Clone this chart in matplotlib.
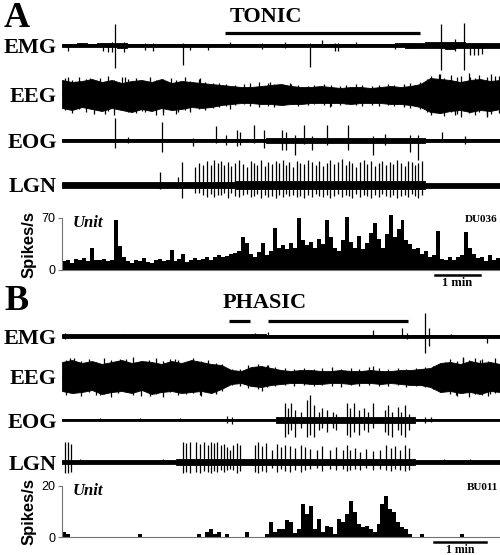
import numpy as np
import matplotlib
matplotlib.use("Agg")
import matplotlib.pyplot as plt

SERIF = ["Liberation Serif", "DejaVu Serif"]
SANS = ["Liberation Sans", "DejaVu Sans"]

# ---------------- panel A : tonic REM, unit DU036 (time in s) ----------------
DUR_A = 584
TONIC = (217, 477)

# half widths of the background band (45 samples over the record)
emg_a_env = [1.5, 1.5, 2, 1.5, 2, 2, 2.5,
             1.5, 1.5, 1.5, 1.5, 1.5, 1.5, 1.5, 1.5, 1.5, 1.5,
             1.5, 1.5, 1.5, 1.5, 1.5, 1.5, 1.5, 1.5, 1.5, 1.5,
             1.5, 1.5, 1.5, 1.5, 1.5, 1.5, 1.5, 2, 2.5, 2.5,
             3, 3, 3.5, 3, 2.5, 2.5, 2.5, 2.5]
emg_a_t = [8, 55, 61, 67, 71, 83, 111, 121, 161, 171, 195, 224, 267, 297, 331,
           347, 364, 368, 392, 444, 464, 505, 524, 536, 544, 549, 555, 560]
emg_a_up = [1, 2, 2, 3, 21, 3, 2, 2, 2, 1, 1, 3, 2, 3, 2,
            5, 2, 2, 3, 2, 2, 21, 6, 22, 2, 2, 2, 2]
emg_a_dn = [6, 6, 7, 7, 23, 7, 5, 6, 20, 5, 5, 2, 4, 3, 22,
            2, 6, 6, 2, 4, 3, 25, 6, 25, 10, 10, 10, 9]

eeg_a_up = [15, 13, 14, 16, 13, 15, 12, 14, 15, 13, 16, 12, 14, 13, 12,
            11, 10, 9,
            8, 8, 9, 10, 11, 9, 8, 8, 9, 8, 7, 8, 8, 7, 8, 9, 8, 9, 11,
            17, 16, 15, 13, 15, 16, 14, 15]
eeg_a_lo = [13, 15, 12, 14, 16, 13, 15, 17, 14, 16, 13, 15, 14, 12, 13,
            12, 10, 9,
            8, 8, 9, 9, 10, 9, 9, 8, 8, 8, 8, 9, 8, 8, 8, 9, 9, 10, 12,
            17, 18, 16, 15, 17, 15, 16, 14]
eeg_a_t = [8, 37, 57, 84, 111, 135, 155, 184, 224, 277, 304, 357, 504, 524, 544, 567, 577,
           4, 13, 22, 32, 42, 50, 61, 69, 80, 88, 98, 106, 117, 125, 134, 145,
           152, 164, 171, 182, 190, 201, 209, 219,
           231, 242, 251, 263, 274, 283, 296, 305, 315, 328, 336, 349, 358, 370,
           379, 392, 400, 413, 422, 434, 443, 456, 464, 477, 486,
           492, 502, 509, 518, 526, 532, 542, 550, 556, 566, 572, 582]
eeg_a_sup = [18, 17, 10, 18, 10, 12, 10, 17, 6, 13, 12, 6, 21, 12, 18, 10, 19,
             17, 15, 18, 16, 14, 17, 19, 15, 18, 16, 17, 14, 18, 15, 16, 17,
             15, 18, 14, 16, 13, 12, 12, 11,
             10, 11, 12, 13, 12, 11, 10, 11, 10, 9, 10, 11, 10, 9,
             10, 11, 10, 9, 10, 11, 10, 11, 12, 13, 16,
             19, 21, 17, 20, 18, 19, 22, 17, 20, 18, 21, 19]
eeg_a_sdn = [10, 10, 19, 10, 17, 20, 17, 10, 14, 6, 6, 12, 18, 20, 12, 22, 12,
             15, 18, 14, 17, 19, 15, 16, 20, 14, 17, 18, 16, 15, 20, 17, 14,
             19, 15, 17, 14, 15, 13, 12, 11,
             10, 9, 11, 12, 11, 12, 10, 9, 11, 10, 9, 10, 11, 10,
             9, 10, 11, 10, 11, 10, 11, 12, 13, 14, 17,
             20, 18, 21, 17, 19, 22, 18, 20, 17, 21, 19, 18]

eog_a_env = [1.5] * 21 + [2.5] * 16 + [1.5] * 8
eog_a_t = [71, 88, 133, 175, 205, 219, 233, 237, 256, 269, 293, 299, 311, 323,
           333, 353, 381, 415, 431, 464, 475, 507, 537]
eog_a_up = [22, 3, 18, 2, 14, 5, 10, 8, 15, 10, 10, 8, 5, 15,
            4, 15, 15, 4, 6, 5, 5, 8, 4]
eog_a_dn = [8, 3, 12, 6, 3, 5, 6, 5, 3, 8, 10, 10, 15, 4,
            10, 5, 10, 15, 5, 12, 20, 2, 4]

lgn_a_env = [3] * 18 + [4] * 19 + [2.5] * 8
lgn_a_t = [131, 155, 160, 177, 183, 188, 193, 199, 203, 208, 212, 216, 221, 225,
           231, 236, 241, 247, 252, 256, 260, 265, 271, 275, 280, 285, 289, 295,
           299, 303, 308, 313, 317, 323, 328, 333, 339, 343, 348, 353, 357, 363,
           368, 373, 379, 383, 387, 392, 397, 403, 407, 412, 417, 423, 427, 432,
           437, 441, 447, 452, 457, 461, 467, 471, 475, 480]
lgn_a_up = [13, 8, 23, 18, 22, 20, 24, 20, 25, 22, 24, 20, 23, 19, 22, 25, 21,
            18, 24, 22, 20, 25, 19, 23, 21, 24, 22, 25, 20, 23, 18, 24, 22, 21,
            25, 23, 20, 24, 19, 22, 25, 21, 23, 26, 20, 24, 22, 18, 23, 25, 21,
            24, 19, 22, 24, 20, 23, 21, 25, 22, 19, 24, 23, 20, 22, 24]
lgn_a_dn = [4, 3, 13, 8, 8, 10, 12, 9, 12, 10, 10, 8, 13, 8, 11, 12, 10, 9, 12,
            11, 9, 13, 10, 12, 11, 13, 10, 12, 9, 11, 10, 12, 11, 13, 10, 12, 9,
            11, 12, 10, 13, 11, 9, 12, 10, 11, 13, 9, 12, 10, 11, 13, 10, 12, 9,
            11, 12, 10, 13, 11, 10, 12, 9, 11, 13, 10]

BIN_A = 5.31
rate_a = [12, 14, 10, 15, 13, 16, 12, 30, 14, 13, 15, 12,
          14, 67, 32, 18, 12,
          10, 14, 12, 16, 11, 9, 13, 15, 12, 14,
          27, 12, 15, 22, 11, 14, 16,
          13, 15, 17, 14, 18, 20, 17, 19, 21, 23, 25,
          44, 36, 22, 18, 24, 37, 20, 25, 56, 30,
          34, 28, 36, 30, 70, 40, 33, 38, 30, 42,
          35, 67, 45, 30, 25, 40, 72, 38, 30, 46,
          28, 36, 50, 63, 42, 30, 48, 74, 45, 55,
          67, 40, 35, 28, 30, 22, 25, 18, 20, 52,
          15, 14, 17, 13, 18, 20, 51, 30, 22, 16, 18, 12, 20, 14, 16]

# ---------------- panel B : phasic REM, unit BU011 (time in s) ----------------
DUR_B = 505
PHASIC = [(192, 217), (238, 399)]

emg_b_env = [2] * 21 + [1.5] * 24
emg_b_t = [3, 20, 45, 70, 100, 140, 223, 238, 359, 392, 398, 419, 423, 448, 490]
emg_b_up = [3, 2, 2, 2, 2, 2, 3, 4, 6, 8, 3, 23, 8, 2, 1]
emg_b_dn = [3, 1, 1, 1, 1, 1, 1, 2, 1, 2, 3, 17, 10, 1, 7]

eeg_b_up = [15, 17, 14, 16, 13, 15, 17, 14, 16, 15, 13, 16, 14, 17, 15, 13, 12,
            7, 6, 10, 11, 9,
            7, 6, 7, 7, 6, 6, 7, 6, 6, 7, 6, 6, 7, 7, 8, 9,
            14, 15, 13, 16, 14, 15, 13]
eeg_b_lo = [14, 16, 15, 13, 17, 15, 14, 16, 13, 17, 15, 14, 16, 15, 14, 16, 12,
            7, 6, 9, 10, 8,
            7, 6, 6, 7, 7, 6, 6, 7, 6, 6, 7, 6, 7, 8, 8, 10,
            15, 14, 16, 15, 17, 14, 15]
eeg_b_t = [9, 44, 67, 102, 130, 159, 177, 231, 238, 358, 442, 454, 462, 482, 494,
           5, 14, 22, 31, 39, 48, 57, 65, 74, 82, 91, 100, 108, 117, 125, 134,
           143, 151, 160, 168, 177, 185,
           196, 205, 215, 226, 236, 246, 257, 268, 279, 290, 300, 311, 322, 333,
           343, 354, 365, 376, 387, 397, 408, 418, 428, 437,
           447, 455, 462, 469, 476, 484, 491, 499]
eeg_b_sup = [19, 10, 18, 10, 18, 10, 8, 8, 12, 11, 15, 10, 19, 17, 10,
             17, 19, 16, 18, 15, 19, 17, 16, 18, 20, 15, 17, 19, 16, 18, 17,
             15, 19, 16, 17, 14, 13,
             8, 8, 12, 13, 12, 10, 9, 8, 9, 8, 9, 10, 8, 9,
             8, 10, 9, 8, 9, 8, 9, 10, 11, 14,
             18, 16, 20, 17, 19, 18, 16, 19]
eeg_b_sdn = [10, 18, 10, 19, 10, 18, 16, 14, 8, 5, 14, 18, 10, 10, 17,
             18, 16, 19, 15, 18, 17, 20, 16, 15, 18, 19, 16, 17, 20, 15, 18,
             17, 16, 19, 15, 17, 14,
             8, 9, 11, 12, 10, 9, 8, 9, 8, 9, 8, 9, 10, 8,
             9, 8, 9, 9, 8, 10, 9, 10, 12, 15,
             17, 19, 16, 20, 17, 18, 19, 16]

eog_b_env = [1] * 22 + [3] * 14 + [1] * 9
eog_b_t = [44, 90, 136, 190, 196, 257, 261, 264, 269, 275, 283, 286, 290, 296,
           300, 306, 312, 316, 329, 332, 337, 342, 348, 353, 359, 372, 376, 381,
           387, 391, 396, 400, 419, 425]
eog_b_up = [2, 2, 2, 4, 3, 17, 12, 17, 10, 8, 20, 25, 15, 8,
            12, 10, 8, 6, 17, 12, 17, 10, 12, 8, 17, 10, 15, 8,
            13, 8, 15, 6, 3, 3]
eog_b_dn = [1, 1, 1, 3, 4, 17, 14, 10, 17, 8, 17, 15, 17, 10,
            8, 12, 8, 10, 15, 17, 12, 15, 10, 12, 8, 12, 15, 17,
            10, 15, 17, 10, 3, 2]

lgn_b_env = [2] * 12 + [3] * 24 + [2] * 9
lgn_b_t = [3, 7, 10, 21, 44, 117,
           140, 143, 148, 155, 159, 164, 168, 172, 175, 179, 183, 187, 190, 194,
           197, 202, 205,
           223, 226, 231, 235, 242, 248, 253, 257, 263, 269, 275, 280, 286, 294,
           300, 309, 316, 324, 329, 332, 338, 344, 350, 358, 367, 373, 379, 384,
           390, 396, 400, 440, 470]
lgn_b_up = [20, 20, 18, 3, 2, 3,
            20, 19, 20, 20, 18, 20, 17, 20, 19, 20, 17, 18, 15, 12, 17, 19, 17,
            17, 20, 16, 19, 12, 18, 15, 17, 16, 14, 17, 15, 13, 12, 16, 12, 15,
            12, 17, 12, 14, 10, 13, 11, 12, 17, 14, 16, 12, 17, 14, 3, 3]
lgn_b_dn = [11, 11, 10, 2, 1, 2,
            11, 10, 11, 10, 11, 9, 10, 11, 9, 10, 8, 10, 8, 7, 8, 11, 9,
            10, 11, 9, 10, 6, 10, 7, 9, 10, 8, 10, 8, 7, 6, 9, 7, 8,
            7, 9, 8, 7, 8, 6, 8, 7, 8, 9, 7, 8, 9, 8, 2, 2]

BIN_B = 4.59
rate_b = [2, 1, 0, 0, 0, 0, 0, 0, 0, 0,
          0, 0, 0, 0, 0, 0, 0, 0, 0, 1,
          0, 0, 0, 0, 0, 0, 0, 0, 0, 0,
          0, 0, 0, 0, 1, 0, 2, 3, 1, 2,
          0, 1, 0, 0, 0, 0, 2, 0, 0, 0,
          0, 1, 6, 2, 3, 3, 6.5, 6, 1.5, 3,
          13, 9, 12, 3, 7, 2, 4.5, 4, 1, 7,
          6, 9, 14, 10, 5, 4, 4.5, 3, 2, 5,
          13, 16, 11, 10, 6, 4, 3, 1, 0, 0,
          1, 0, 0, 0, 0, 0, 0, 0, 0, 0,
          1, 0, 0, 0, 0, 0, 0, 0, 0, 0]

# ---------------------------------------------------------------------------
W, H = 500, 555
X0, XW = 62, 438
fig = plt.figure(figsize=(W / 100, H / 100), dpi=100)


def trace_ax(yc, dur, half=30):
    ax = fig.add_axes([X0 / W, 1 - (yc + half) / H, XW / W, 2 * half / H])
    ax.set_xlim(0, dur)
    ax.set_ylim(-half, half)
    ax.axis("off")
    return ax


def draw_trace(ax, dur, upper, lower, st, sup, sdn, step=None):
    t = np.linspace(0, dur, len(upper))
    ax.fill_between(t, -np.asarray(lower), upper, step=step, color="black", lw=0.6)
    ax.axhline(0, color="black", lw=1.2)
    ax.vlines(st, -np.asarray(sdn), sup, color="black", lw=0.9)


def label(yc, txt):
    fig.text(57 / W, 1 - yc / H, txt, ha="right", va="center_baseline",
             fontsize=16, fontweight="bold", family=SERIF)


def hist_ax(y0, ytop, dur, ymax, rate, binw, unit_id):
    ax = fig.add_axes([X0 / W, 1 - y0 / H, XW / W, (y0 - ytop) / H])
    ax.set_xlim(0, dur)
    ax.set_ylim(0, ymax)
    ax.bar(np.arange(len(rate)) * binw, rate, width=binw, align="edge",
           color="black", lw=0, clip_on=False)
    for s in ("top", "right"):
        ax.spines[s].set_visible(False)
    for s in ("left", "bottom"):
        ax.spines[s].set_color("0.45")
        ax.spines[s].set_linewidth(0.8)
    ax.set_xticks([])
    ax.set_yticks([0, ymax])
    ax.tick_params(axis="y", length=3, width=0.8, color="0.45", pad=2)
    for lab in ax.get_yticklabels():
        lab.set_family(SANS)
        lab.set_fontsize(9)
    ax.set_ylabel("Spikes/s", family=SANS, fontweight="bold", fontsize=12, labelpad=3)
    ax.text(0.025, 1.06, "Unit", transform=ax.transAxes, va="top", ha="left",
            family=SERIF, fontsize=12, fontweight="bold", style="italic")
    ax.text(0.995, 1.06, unit_id, transform=ax.transAxes, va="top", ha="right",
            family=SERIF, fontsize=8, fontweight="bold")
    return ax


# ---- panel A ----
fig.text(4 / W, 1 - 27 / H, "A", fontsize=26, fontweight="bold", family=SERIF,
         va="baseline")
ax = trace_ax(45, DUR_A)
draw_trace(ax, DUR_A, emg_a_env, emg_a_env, emg_a_t, emg_a_up, emg_a_dn, step="mid")
ax.plot(TONIC, [12, 12], color="black", lw=2.3, clip_on=False, solid_capstyle="butt")
ax.text(272, 28, "TONIC", ha="center", va="center", fontsize=16,
        fontweight="bold", family=SERIF)
label(45, "EMG")

ax = trace_ax(95, DUR_A)
draw_trace(ax, DUR_A, eeg_a_up, eeg_a_lo, eeg_a_t, eeg_a_sup, eeg_a_sdn)
label(95, "EEG")

ax = trace_ax(140, DUR_A)
draw_trace(ax, DUR_A, eog_a_env, eog_a_env, eog_a_t, eog_a_up, eog_a_dn, step="mid")
label(140, "EOG")

ax = trace_ax(185, DUR_A)
draw_trace(ax, DUR_A, lgn_a_env, lgn_a_env, lgn_a_t, lgn_a_up, lgn_a_dn, step="mid")
label(185, "LGN")

ax = hist_ax(270, 218, DUR_A, 70, rate_a, BIN_A, "DU036")
ax.plot([497, 557], [-7, -7], color="black", lw=1.8, clip_on=False)
ax.text(527, -10, "1 min", ha="center", va="top", family=SERIF, fontsize=9,
        fontweight="bold")

# ---- panel B ----
fig.text(4 / W, 1 - 310 / H, "B", fontsize=26, fontweight="bold", family=SERIF,
         va="baseline")
ax = trace_ax(336, DUR_B)
draw_trace(ax, DUR_B, emg_b_env, emg_b_env, emg_b_t, emg_b_up, emg_b_dn, step="mid")
for seg in PHASIC:
    ax.plot(seg, [15, 15], color="black", lw=2.3, clip_on=False, solid_capstyle="butt")
ax.text(234, 33, "PHASIC", ha="center", va="center", fontsize=16,
        fontweight="bold", family=SERIF)
label(336, "EMG")

ax = trace_ax(377, DUR_B)
draw_trace(ax, DUR_B, eeg_b_up, eeg_b_lo, eeg_b_t, eeg_b_sup, eeg_b_sdn)
label(377, "EEG")

ax = trace_ax(420, DUR_B)
draw_trace(ax, DUR_B, eog_b_env, eog_b_env, eog_b_t, eog_b_up, eog_b_dn, step="mid")
label(420, "EOG")

ax = trace_ax(462, DUR_B)
draw_trace(ax, DUR_B, lgn_b_env, lgn_b_env, lgn_b_t, lgn_b_up, lgn_b_dn, step="mid")
label(462, "LGN")

ax = hist_ax(537, 486, DUR_B, 20, rate_b, BIN_B, "BU011")
ax.plot([429, 489], [-2, -2], color="black", lw=1.8, clip_on=False)
ax.text(459, -2.6, "1 min", ha="center", va="top", family=SERIF, fontsize=8.5,
        fontweight="bold")

fig.savefig("out.png", dpi=100)
